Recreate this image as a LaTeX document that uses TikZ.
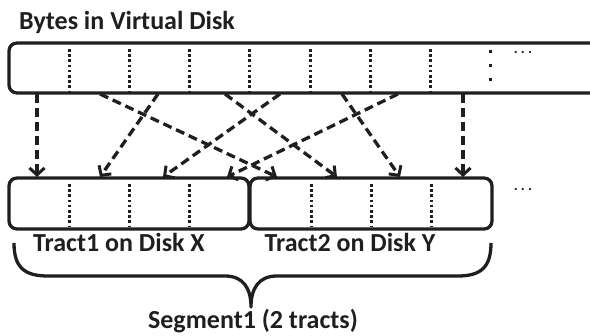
\documentclass[tikz,border=0pt]{standalone}
\usepackage{fontspec}
\setmainfont{Carlito}
\usetikzlibrary{arrows.meta}
\begin{document}
\begin{tikzpicture}[x=1pt,y=-1pt,
  box/.style={draw=black!88, line width=3.3pt, rounded corners=8pt, inner sep=0pt, outer sep=0pt, anchor=north west},
  divider/.style={draw=black!88, line width=3pt, dash pattern=on 2.6pt off 2.6pt},
  sparse/.style={draw=black!88, line width=3pt, dash pattern=on 2.6pt off 11.4pt},
  flow/.style={draw=black!88, line width=3.3pt, dash pattern=on 9pt off 5pt,
    -{Straight Barb[length=7pt,width=15pt,line width=3pt]}},
  brace/.style={draw=black!88, line width=3.3pt, line join=round},
  lbl/.style={font=\fontsize{26}{30}\selectfont\bfseries, inner sep=0pt, text=black!88},
  more/.style={font=\fontsize{15}{15}\selectfont\bfseries, inner sep=0pt, text=black!88},
]
\useasboundingbox (0,0) rectangle (590,336);
\clip (0,0) rectangle (590,336);

% title
\node[lbl, anchor=base west] (title) at (19,30) {Bytes in Virtual Disk};

% virtual disk (extends past the right edge)
\node[box, minimum width=620pt, minimum height=50pt] (vdisk) at (9,43) {};
\foreach \x in {69,129,189,249,310,370,430}
  \draw[divider] (\x,49) -- (\x,91);
\draw[sparse] (490,50) -- (490,92);
\node[more] (vmore) at (523,53) {.\hspace{3pt}.\hspace{3pt}.};

% tracts
\node[box, minimum width=240pt, minimum height=51pt] (tr1) at (9,178) {};
\node[box, minimum width=242pt, minimum height=51pt] (tr2) at (250,178) {};
\foreach \x in {69,129,189,311,371,431}
  \draw[divider] (\x,184) -- (\x,227);
\node[more] (tmore) at (523,190) {.\hspace{3pt}.\hspace{3pt}.};

% arrow end points
\foreach \i/\sx/\dx in {0/37/37, 1/100/277, 2/158/100, 3/225/337, 4/280/163, 5/342/400, 6/398/227, 7/463/463} {
  \coordinate (s\i) at (\sx,94);
  \coordinate (d\i) at (\dx,177);
}
\foreach \i in {0,...,7}
  \draw[flow] (s\i) -- (d\i);

% labels
\node[lbl, anchor=base] (l1) at (119,252) {Tract1 on Disk X};
\node[lbl, anchor=base] (l2) at (350,252) {Tract2 on Disk Y};

% brace
\coordinate (bl) at (14,243);
\coordinate (bt) at (251,307);
\coordinate (br) at (491,243);
\draw[brace] (bl) .. controls (14,268) and (25,276) .. (48,276) -- (225,276)
  .. controls (243,276) and (251,288) .. (bt)
  .. controls (251,288) and (259,276) .. (277,276) -- (458,276)
  .. controls (482,276) and (491,266) .. (br);
\node[lbl, anchor=base] (seg) at (253,329) {Segment1 (2 tracts)};
\end{tikzpicture}
\end{document}
